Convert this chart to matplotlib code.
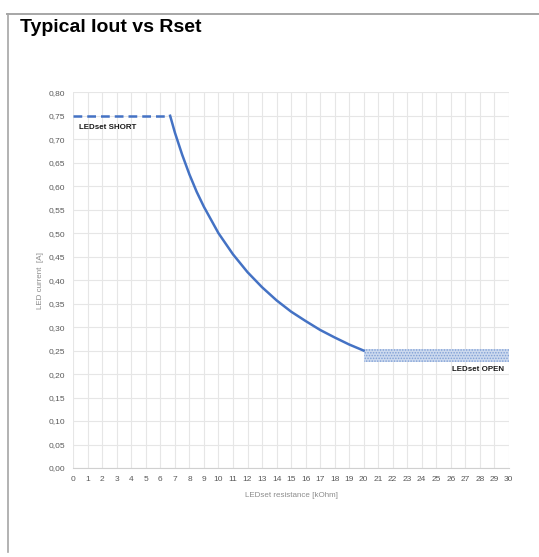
import matplotlib
matplotlib.use("Agg")
import matplotlib.pyplot as plt
from matplotlib.lines import Line2D
from matplotlib.ticker import FuncFormatter

# values
short_r = [0.0, 6.67]
short_i = [0.75, 0.75]

curve_r = [6.67, 7, 7.5, 8, 8.5, 9, 10, 11, 12, 13, 14, 15, 16, 17, 18, 19, 20]
curve_i = [0.75, 0.714, 0.667, 0.625, 0.588, 0.556, 0.50, 0.455, 0.417,
           0.385, 0.357, 0.333, 0.313, 0.294, 0.278, 0.263, 0.25]

open_r = [20, 30]
open_lo = 0.226
open_hi = 0.253

x_ticks = list(range(0, 31))
y_ticks = [i * 0.05 for i in range(17)]

blue = '#4472C4'
grey_txt = '#595959'
grid_col = '#E6E6E6'

plt.rcParams['font.family'] = ['Liberation Sans', 'DejaVu Sans']
plt.rcParams['hatch.linewidth'] = 0.7

fig = plt.figure(figsize=(5.39, 5.57), dpi=100)
ax = fig.add_axes([0.136, 0.1598, 0.808, 0.6745])

ax.plot(short_r, short_i, color=blue, lw=1.8, ls=(0, (3.5, 2)), zorder=3)
ax.plot(curve_r, curve_i, color=blue, lw=1.8, zorder=3)
ax.fill_between(open_r, open_lo, open_hi, facecolor='#CCD9EE',
                edgecolor='#7F9FD5', hatch='......', lw=0, zorder=2)

ax.text(0.4, 0.725, 'LEDset SHORT', fontsize=5.7, fontweight='bold',
        color='#1a1a1a', va='center', ha='left')
ax.text(29.7, 0.209, 'LEDset OPEN', fontsize=5.7, fontweight='bold',
        color='#1a1a1a', va='center', ha='right')

ax.set_xlim(0, 30)
ax.set_ylim(0, 0.80)
ax.set_xticks(x_ticks)
ax.set_yticks(y_ticks)
ax.yaxis.set_major_formatter(FuncFormatter(lambda v, p: f'{v:.2f}'.replace('.', ',')))
ax.tick_params(length=0, labelsize=6, colors=grey_txt, pad=6)
ax.grid(True, color=grid_col, lw=0.8)
ax.set_axisbelow(True)
for s in ['top', 'right', 'left']:
    ax.spines[s].set_visible(False)
ax.spines['bottom'].set_color('#D0D0D0')
ax.spines['bottom'].set_linewidth(0.8)

ax.set_xlabel('LEDset resistance [kOhm]', fontsize=5.8, color='#8c8c8c', labelpad=6)
ax.set_ylabel('LED current  [A]', fontsize=5.8, color='#8c8c8c', labelpad=3)

fig.text(20 / 539, 1 - 28 / 557, 'Typical Iout vs Rset', fontsize=14,
         fontweight='bold', color='black', va='center', ha='left')

# outer frame lines of the screenshot
fig.add_artist(Line2D([7 / 539, 1.0], [1 - 14 / 557, 1 - 14 / 557],
                      color='#A6A6A6', lw=1.4, transform=fig.transFigure))
fig.add_artist(Line2D([8 / 539, 8 / 539], [1 - 14 / 557, 1 - 552 / 557],
                      color='#A6A6A6', lw=1.2, transform=fig.transFigure))

fig.savefig('out.png', dpi=100)
